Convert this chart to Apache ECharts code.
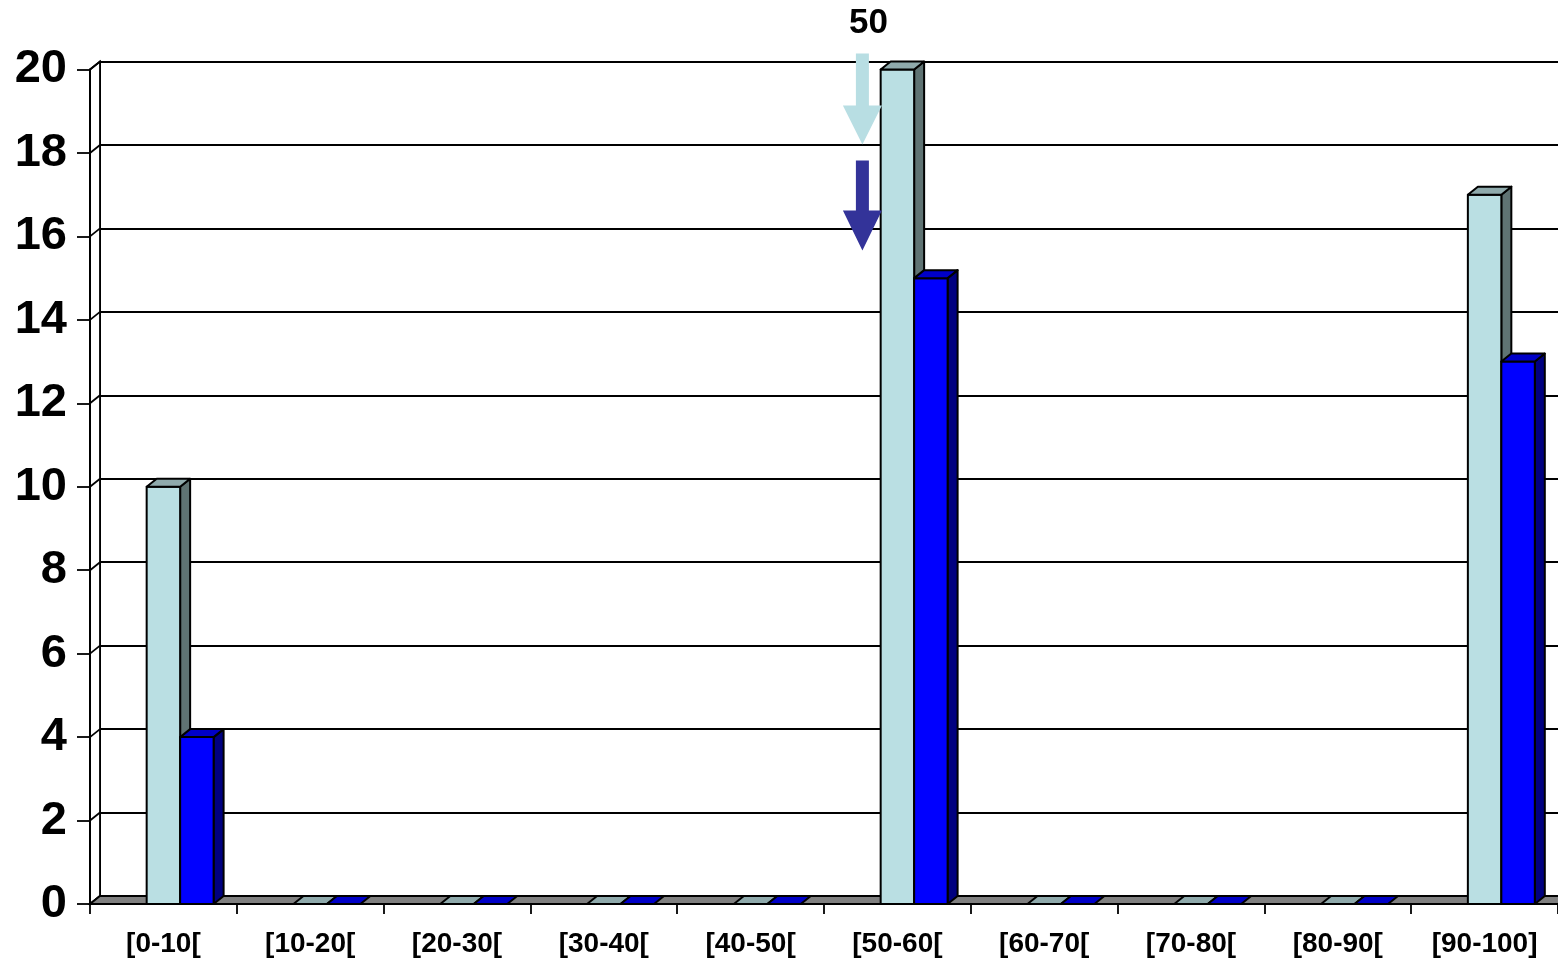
<!DOCTYPE html>
<html><head><meta charset="utf-8">
<script src="https://cdn.jsdelivr.net/npm/echarts@6/dist/echarts.min.js"></script>
<style>html,body{margin:0;padding:0;background:#fff}#c{width:1558px;height:960px}</style>
</head><body><div id="c"></div>
<script>
// ---- data ----
const categories = ['[0-10[','[10-20[','[20-30[','[30-40[','[40-50[','[50-60[','[60-70[','[70-80[','[80-90[','[90-100]'];
const seriesLight = [10, 0, 0, 0, 0, 20, 0, 0, 0, 17];
const seriesBlue  = [4, 0, 0, 0, 0, 15, 0, 0, 0, 13];
const yMin = 0, yMax = 20, yStep = 2;
const annotationText = '50';
const annotationCategory = 5;

// ---- style ----
const DX = 10, DY = -8;           // 3D depth offset
const LIGHT = {front:'#BADFE3', side:'#5F7373', top:'#8FAAAC'};
const BLUE  = {front:'#0000FF', side:'#000080', top:'#0000C8'};
const EDGE = {stroke:'#000', lineWidth:2, lineJoin:'round'};

function barRender(color, slot){
  return function(params, api){
    const i = api.value(0), v = api.value(1);
    const base = api.coord([i, 0]);
    const top = api.coord([i, v]);
    const band = api.size([1, 0])[0];
    const bw = band * 0.228;
    const x0 = base[0] - bw/2 + slot*bw, x1 = x0 + bw;
    const y0 = base[1], y1 = top[1];
    const ch = [];
    if (v > 0) {
      ch.push({type:'polygon', shape:{points:[[x1,y1],[x1+DX,y1+DY],[x1+DX,y0+DY],[x1,y0]]}, style:Object.assign({fill:color.side}, EDGE)});
      ch.push({type:'rect', shape:{x:x0, y:y1, width:bw, height:y0-y1}, style:Object.assign({fill:color.front}, EDGE)});
    }
    ch.push({type:'polygon', shape:{points:[[x0,y1],[x1,y1],[x1+DX,y1+DY],[x0+DX,y1+DY]]}, style:Object.assign({fill:color.top}, EDGE)});
    return {type:'group', children: ch};
  };
}

const yTicks = [];
for (let t = yMin; t <= yMax; t += yStep) yTicks.push(t);

function frameRender(params, api){
  const cs = params.coordSys;
  const xL = cs.x, xR = cs.x + cs.width;
  const yB = api.coord([0, yMin])[1], yT = api.coord([0, yMax])[1];
  const ch = [];
  // left wall
  ch.push({type:'polygon', shape:{points:[[xL,yT],[xL+DX,yT+DY],[xL+DX,yB+DY],[xL,yB]]}, style:{fill:'#fff', stroke:'#000', lineWidth:1.8}});
  yTicks.forEach(t => {
    const y = api.coord([0, t])[1];
    ch.push({type:'line', shape:{x1:xL, y1:y, x2:xL+DX, y2:y+DY}, style:{stroke:'#000', lineWidth:1.8}});
  });
  // floor
  ch.push({type:'polygon', shape:{points:[[xL,yB],[xR,yB],[xR+DX,yB+DY],[xL+DX,yB+DY]]}, style:{fill:'#808080', stroke:'#000', lineWidth:1.8}});
  return {type:'group', children: ch};
}

function annotationRender(params, api){
  const c = api.coord([api.value(0), yMax]);
  const ax = c[0] - 35, y = c[1];
  const arrow = (ys, ye, yt, fill) => ({type:'polygon', shape:{points:[
    [ax-6.5, ys],[ax+6.5, ys],[ax+6.5, ye],[ax+19.5, ye],[ax, yt],[ax-19.5, ye],[ax-6.5, ye]]}, style:{fill}});
  return {type:'group', children:[
    {type:'text', style:{text: annotationText, x: ax+6, y: y-46, align:'center', verticalAlign:'middle',
      font:'bold 35px "Liberation Sans", Arial, sans-serif', fill:'#000'}},
    arrow(y-16, y+36, y+75, '#B8DEE3'),
    arrow(y+91, y+141, y+181, '#333399')
  ]};
}

const chart = echarts.init(document.getElementById('c'), null, {renderer:'canvas'});
chart.setOption({
  animation:false,
  backgroundColor:'#fff',
  grid:[
    {left:90, right:0, top:69.5, bottom:56},
    {left:90+DX, right:-DX, top:69.5+DY, bottom:56-DY}
  ],
  xAxis:[
    {type:'category', gridIndex:0, data:categories, boundaryGap:true, z:5,
     axisLine:{show:true, lineStyle:{color:'#000', width:2}},
     axisTick:{show:true, interval:0, length:10, lineStyle:{color:'#000', width:1.8}},
     axisLabel:{interval:0, margin:26, color:'#000', fontSize:28, fontWeight:'bold', fontFamily:'"Liberation Sans", Arial, sans-serif'},
     splitLine:{show:false}},
    {type:'category', gridIndex:1, data:categories, show:false}
  ],
  yAxis:[
    {type:'value', gridIndex:0, min:yMin, max:yMax, interval:yStep, z:5,
     axisLine:{show:true, lineStyle:{color:'#000', width:2}},
     axisTick:{show:true, length:13, lineStyle:{color:'#000', width:1.8}},
     axisLabel:{margin:23, color:'#000', fontSize:47, fontWeight:'bold', fontFamily:'"Liberation Sans", Arial, sans-serif'},
     splitLine:{show:false}},
    {type:'value', gridIndex:1, min:yMin, max:yMax, interval:yStep,
     axisLine:{show:true, lineStyle:{color:'#000', width:2}},
     axisTick:{show:false}, axisLabel:{show:false},
     splitLine:{show:true, lineStyle:{color:'#000', width:1.8}}}
  ],
  series:[
    {type:'custom', name:'frame', xAxisIndex:0, yAxisIndex:0, z:1, clip:false, silent:true,
     renderItem: frameRender, data:[[0, 0]]},
    {type:'custom', name:'light', xAxisIndex:0, yAxisIndex:0, z:2, clip:false,
     renderItem: barRender(LIGHT, 0), data: seriesLight.map((v,i)=>[i,v])},
    {type:'custom', name:'blue', xAxisIndex:0, yAxisIndex:0, z:3, clip:false,
     renderItem: barRender(BLUE, 1), data: seriesBlue.map((v,i)=>[i,v])},
    {type:'custom', name:'annotation', xAxisIndex:0, yAxisIndex:0, z:4, clip:false, silent:true,
     renderItem: annotationRender, data:[[annotationCategory, yMax]]}
  ]
});
</script></body></html>
